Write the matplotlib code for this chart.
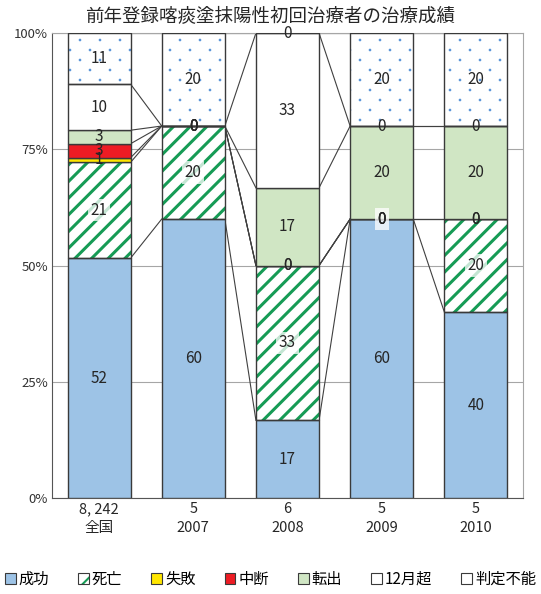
import numpy as np
import matplotlib
matplotlib.use('Agg')
import matplotlib.pyplot as plt
from matplotlib.patches import Patch
from matplotlib.path import Path
from matplotlib import hatch as mhatch

plt.rcParams['font.family'] = ['Noto Sans CJK JP', 'DejaVu Sans']


# sparse staggered dot pattern like the Excel fill, replaces the default '.' hatch
class SparseDots(mhatch.HatchPatternBase):
    def __init__(self, hatch, density):
        self.n = hatch.count('.') * 5
        circ = Path.unit_circle()
        self.cv = circ.vertices
        self.cc = circ.codes
        if self.n == 0:
            self.num_vertices = 0
        else:
            n = self.n
            self.num_vertices = ((n + 1) * (n + 1) + n * n) * len(self.cv)

    def set_vertices_and_codes(self, vertices, codes):
        n = self.n
        r = 0.045 / n
        L = len(self.cv)
        idx = 0
        for row in range(2 * n + 1):
            yy = row / (2 * n)
            if row % 2 == 0:
                cols = np.arange(n + 1) / n
            else:
                cols = (np.arange(n) + 0.5) / n
            for xx in cols:
                vertices[idx:idx + L] = self.cv * r + (xx, yy)
                codes[idx:idx + L] = self.cc
                idx += L


mhatch._hatch_types = [SparseDots if h is mhatch.SmallFilledCircles else h
                       for h in mhatch._hatch_types]

# data (percent of cases)
groups = ['全国', '2007', '2008', '2009', '2010']
counts = ['8, 242', '5', '6', '5', '5']
series = ['成功', '死亡', '失敗', '中断', '転出', '12月超', '判定不能']
success = [51.6, 60, 16.7, 60, 40]
death = [20.6, 20, 33.3, 0, 20]
failure = [1.0, 0, 0, 0, 0]
interrupt = [3.0, 0, 0, 0, 0]
transfer = [2.9, 0, 16.7, 20, 20]
over12 = [9.9, 0, 33.3, 0, 0]
unknown = [11.0, 20, 0, 20, 20]

values = [success, death, failure, interrupt, transfer, over12, unknown]
faces = ['#9DC3E6', 'white', '#FFE600', '#ED1C24', '#D0E6C4', 'white', 'white']
hatches = [None, '//', None, None, None, None, '.']
hatch_cols = [None, '#169B55', None, None, None, None, '#4F8FD6']
hatch_lw = [None, 2.2, None, None, None, None, 0.6]
edge = '#3A3A3A'

fig = plt.figure(figsize=(5.41, 5.94), dpi=100)
ax = fig.add_axes([0.0961, 0.1616, 0.8706, 0.7828])

x = np.arange(len(groups))
w = 0.67
bottom = np.zeros(len(groups))
tops = [bottom.copy()]
for i, vals in enumerate(values):
    vals = np.array(vals, dtype=float)
    if hatches[i]:
        plt.rcParams['hatch.linewidth'] = hatch_lw[i]
        bars = ax.bar(x, vals, w, bottom=bottom, color=faces[i], edgecolor=hatch_cols[i],
                      hatch=hatches[i], linewidth=0, zorder=2)
        for b in bars:
            if hasattr(b, 'set_hatch_linewidth'):
                b.set_hatch_linewidth(hatch_lw[i])
        ax.bar(x, vals, w, bottom=bottom, fill=False, edgecolor=edge,
               linewidth=1.0, zorder=3)
    else:
        ax.bar(x, vals, w, bottom=bottom, color=faces[i], edgecolor=edge,
               linewidth=1.0, zorder=3)
    for j in range(len(groups)):
        yc = bottom[j] + vals[j] / 2
        box = None
        if i == 1:
            box = dict(facecolor='white', alpha=0.75, edgecolor='none', pad=2)
        ax.text(x[j], yc, '%.0f' % vals[j], ha='center', va='center',
                fontsize=11, color='#262626', zorder=5, bbox=box)
    bottom = bottom + vals
    tops.append(bottom.copy())

# series lines between bars
for t in tops[1:]:
    for j in range(len(groups) - 1):
        ax.plot([x[j] + w / 2, x[j + 1] - w / 2], [t[j], t[j + 1]],
                color='#404040', linewidth=0.8, zorder=1)

ax.set_xlim(-0.5, len(groups) - 0.5)
ax.set_ylim(0, 100)
ax.set_yticks([0, 25, 50, 75, 100])
ax.set_yticklabels(['0%', '25%', '50%', '75%', '100%'], fontsize=9.5, color='#333333')
ax.set_xticks(x)
ax.set_xticklabels([c + '\n' + g for c, g in zip(counts, groups)], fontsize=10.5,
                   color='#262626', linespacing=1.4)
ax.tick_params(axis='both', length=0, pad=3)
ax.yaxis.grid(True, color='#A6A6A6', linewidth=0.8, zorder=0)
ax.set_axisbelow(True)
for s in ['top', 'right']:
    ax.spines[s].set_color('#A6A6A6')
for s in ['left', 'bottom']:
    ax.spines[s].set_color('#555555')

fig.text(0.5, 0.972, '前年登録喀痰塗抹陽性初回治療者の治療成績', ha='center', va='center',
         fontsize=13.3, color='#262626')

# legend: hatched fill with a dark outline on top
plt.rcParams['hatch.linewidth'] = 1.5
handles = []
for i in range(len(series)):
    outline = Patch(facecolor='none', edgecolor=edge, linewidth=0.8)
    if hatches[i]:
        fillp = Patch(facecolor='white', edgecolor=hatch_cols[i], hatch=hatches[i],
                      linewidth=0)
        handles.append((fillp, outline))
    else:
        handles.append(Patch(facecolor=faces[i], edgecolor=edge, linewidth=0.8))
fig.legend(handles, series, loc='center', bbox_to_anchor=(0.5, 0.025), ncol=7,
           frameon=False, fontsize=11, handlelength=0.7, handleheight=0.7,
           handletextpad=0.2, columnspacing=1.9)

plt.savefig('out.png', dpi=100)
